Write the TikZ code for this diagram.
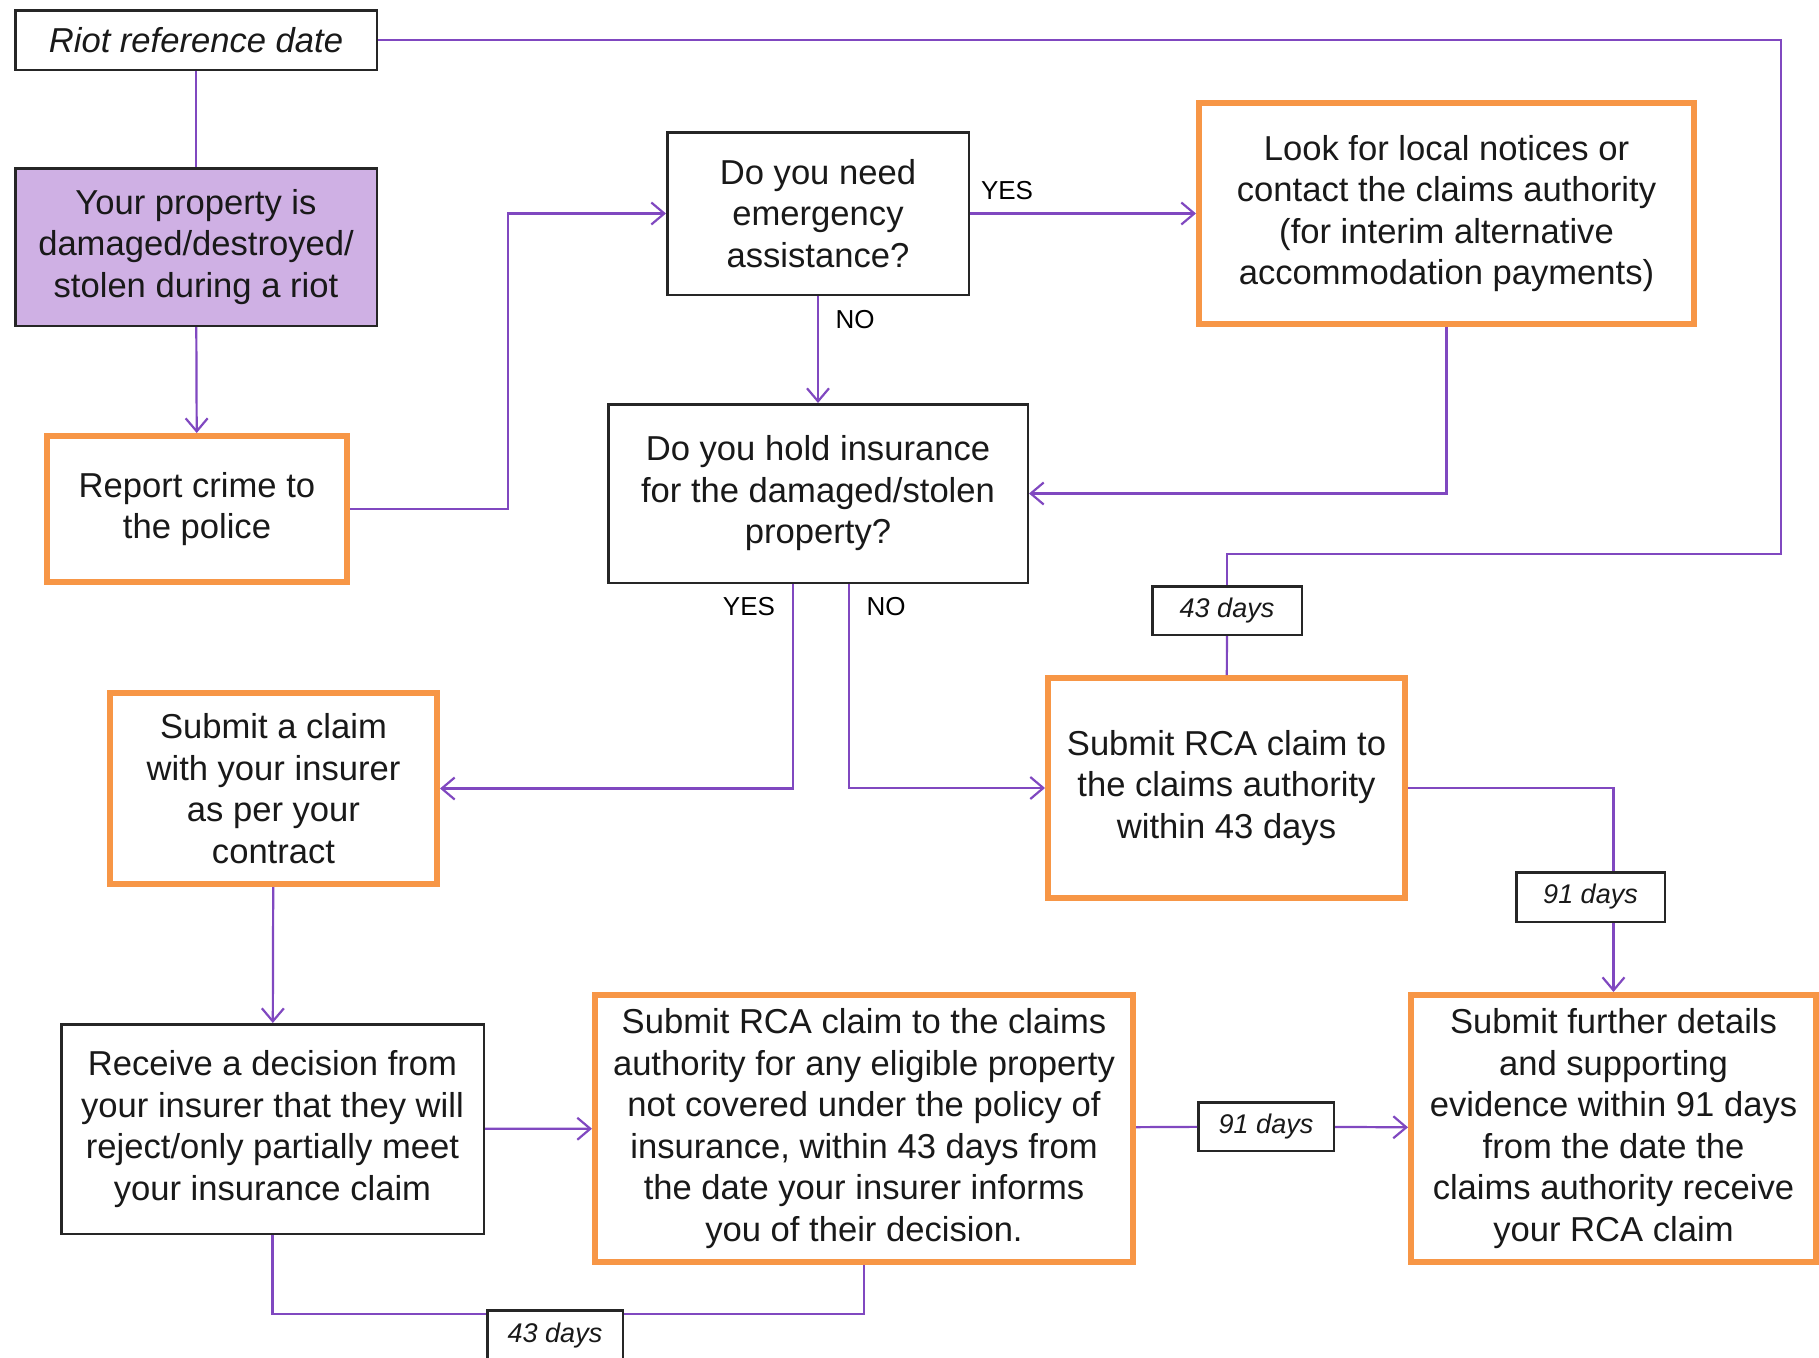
\documentclass[tikz,border=0pt]{standalone}
\usepackage{fontspec}
\setmainfont{Liberation Sans}
\usepackage{tikz}
\usetikzlibrary{arrows.meta}
\definecolor{riotorange}{HTML}{F79646}
\definecolor{riotpurple}{HTML}{8048C0}
\definecolor{riotfill}{HTML}{CFB0E4}
\newcommand{\boxfont}{\fontsize{34.6}{41.5}\selectfont}
\newcommand{\daysfont}{\fontsize{27}{31}\selectfont\itshape}
\newcommand{\yesnofont}{\fontsize{26}{30}\selectfont}

\begin{document}
\begin{tikzpicture}[x=1pt,y=-1pt,
            plain/.style={draw=black!85, line width=2.5pt, fill=white,
                font=\boxfont, align=center, inner sep=0pt, text=black!90},
            action/.style={plain, draw=riotorange, line width=6pt},
            start/.style={plain, fill=riotfill},
            days/.style={plain, font=\daysfont},
            yesno/.style={font=\yesnofont, inner sep=0pt},
            link/.style={draw=riotpurple, line width=2.2pt},
            go/.style={link, -{Straight Barb[length=13pt,width=22pt,line width=2.2pt]}}]
            \useasboundingbox (0,0) rectangle (1819,1357);
            \clip (0,0) rectangle (1819,1357);

            % left column
            \node[plain, minimum width=361.5, minimum height=59.5, font=\boxfont\itshape]
                (ref) at (196,40) {Riot reference date};
            \node[start, minimum width=361.5, minimum height=157.5]
                (prop) at (196,247) {Your property is\\damaged/destroyed/\\stolen during a riot};
            \node[action, minimum width=300, minimum height=146]
                (report) at (197,509) {Report crime to\\the police};
            \node[action, minimum width=327, minimum height=191]
                (claim) at (273.5,788.5) {Submit a claim\\with your insurer\\as per your\\contract};
            \node[plain, minimum width=422.5, minimum height=209.5]
                (decision) at (272.5,1129) {Receive a decision from\\your insurer that they will\\reject/only partially meet\\your insurance claim};

            % middle
            \node[plain, minimum width=301.5, minimum height=162.5]
                (emerg) at (818,213.5) {Do you need\\emergency\\assistance?};
            \node[plain, minimum width=419.5, minimum height=178.5]
                (insur) at (818,493.5) {Do you hold insurance\\for the damaged/stolen\\property?};
            \node[action, minimum width=538, minimum height=267]
                (rcalate) at (864,1128.5) {Submit RCA claim to the claims\\authority for any eligible property\\not covered under the policy of\\insurance, within 43 days from\\the date your insurer informs\\you of their decision.};

            % right
            \node[action, minimum width=495, minimum height=221]
                (look) at (1446.5,213.5) {Look for local notices or\\contact the claims authority\\(for interim alternative\\accommodation payments)};
            \node[action, minimum width=357, minimum height=220]
                (rca) at (1226.5,788) {Submit RCA claim to\\the claims authority\\within 43 days};
            \node[action, minimum width=405, minimum height=267]
                (further) at (1613.5,1128.5) {Submit further details\\and supporting\\evidence within 91 days\\from the date the\\claims authority receive\\your RCA claim};

            % day boxes
            \node[days, minimum width=149.5, minimum height=48.5] (daysA) at (1227,610.5) {43 days};
            \node[days, minimum width=148.5, minimum height=49.5] (daysB) at (1590.5,897) {91 days};
            \node[days, minimum width=135.5, minimum height=48.5] (daysC) at (1266,1126.5) {91 days};
            \node[days, minimum width=135.5, minimum height=49.5] (daysD) at (555,1335) {43 days};

            \node[yesno] (yesA) at (1007,191) {YES};
            \node[yesno] (noA) at (855,320) {NO};
            \node[yesno] (yesB) at (749,607) {YES};
            \node[yesno] (noB) at (886,607) {NO};

            \coordinate (riotturn) at (1781,554);

            \draw[link] (ref) -- (prop);
            \draw[go] (prop) -- (report);
            \draw[go] (report.east) -- ++(158,0) |- (emerg.west);
            \draw[go] (emerg) -- (look);
            \draw[go] (emerg) -- (insur);
            \draw[go] (look.south) |- (insur.east);
            \draw[link] (ref.east) -| (riotturn) -| (daysA.north);
            \draw[link] (daysA) -- (rca);
            \draw[go] ([xshift=-25pt]insur.south) |- (claim.east);
            \draw[go] ([xshift=31pt]insur.south) |- (rca.west);
            \draw[link] (rca.east) -| (further.north |- daysB.north);
            \draw[go] (further.north |- daysB.south) -- (further.north);
            \draw[go] (claim) -- (decision);
            \draw[go] (decision) -- (rcalate);
            \draw[link] (rcalate) -- (daysC);
            \draw[go] (daysC) -- (further);
            \draw[link] (decision.south) |- ([yshift=-5pt]daysD.north west);
            \draw[link] (rcalate.south) |- ([yshift=-5pt]daysD.north east);

        \end{tikzpicture}
\end{document}
